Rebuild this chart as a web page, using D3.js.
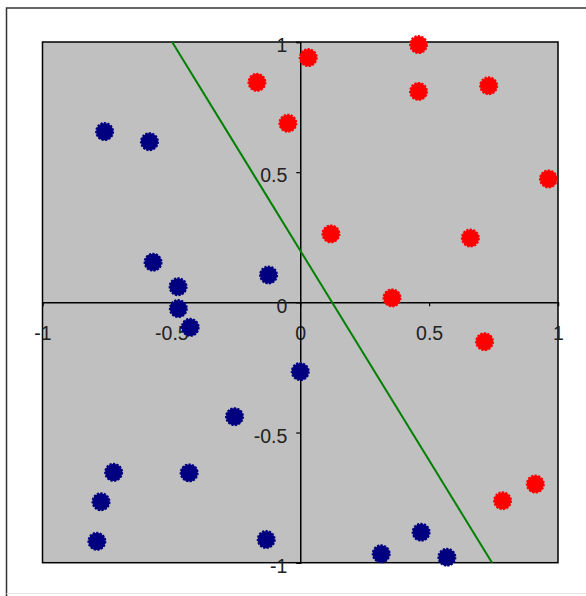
<!DOCTYPE html>
<html>
<head>
<meta charset="utf-8">
<script src="https://cdn.jsdelivr.net/npm/d3@7"></script>
<style>
  body { margin: 0; background: #fff; }
  svg { display: block; }
</style>
</head>
<body>
<div id="grafico"></div>
<script>
// class +1 (red) and class -1 (navy) points, with the separating line
const redX  = [-0.168, 0.031, -0.048, 0.459, 0.459, 0.731, 0.963, 0.119, 0.660, 0.356, 0.715, 0.912, 0.785];
const redY  = [ 0.845, 0.940,  0.688, 0.990, 0.810, 0.832, 0.474, 0.263, 0.247, 0.017, -0.151, -0.698, -0.762];
const blueX = [-0.759, -0.585, -0.571, -0.474, -0.123, -0.473, -0.427, 0.000, -0.255, -0.724, -0.431, -0.773, -0.789, -0.132, 0.314, 0.469, 0.569];
const blueY = [ 0.656,  0.617,  0.154,  0.060,  0.105, -0.024, -0.096, -0.266, -0.439, -0.653, -0.655, -0.766, -0.918, -0.911, -0.966, -0.883, -0.979];
const lineX = [-0.497, 0.744];
const lineY = [1, -1];
const ticks = [-1, -0.5, 0, 0.5, 1];
const tickLabels = ["-1", "-0.5", "0", "0.5", "1"];

const W = 586, H = 596;
const plot = { left: 42.5, right: 558, top: 42, bottom: 562.7 };

const svg = d3.select("#grafico")
              .append("svg")
              .attr("width", W)
              .attr("height", H);

// outer frame
svg.append("path")
   .attr("d", `M6.5,${H} L6.5,8 L${W},8`)
   .attr("fill", "none")
   .attr("stroke", "#333")
   .attr("stroke-width", 1.5);
svg.append("line")
   .attr("x1", 6.5).attr("x2", W)
   .attr("y1", 593.5).attr("y2", 593.5)
   .attr("stroke", "#e4e4e4");

const x = d3.scaleLinear().domain([-1, 1]).range([plot.left, plot.right]);
const y = d3.scaleLinear().domain([-1, 1]).range([plot.bottom, plot.top]);

// plot area
svg.append("rect")
   .attr("x", x(-1))
   .attr("y", y(1))
   .attr("width", x(1) - x(-1))
   .attr("height", y(-1) - y(1))
   .attr("fill", "#c0c0c0")
   .attr("stroke", "#000")
   .attr("stroke-width", 1.5);

const fmt = d => tickLabels[ticks.indexOf(d)];

// axes crossing at 0
const xAxis = svg.append("g")
   .attr("transform", `translate(0, ${y(0)})`)
   .call(d3.axisBottom(x).tickValues(ticks).tickFormat(fmt).tickSize(4).tickPadding(20));
const yAxis = svg.append("g")
   .attr("transform", `translate(${x(0)}, 0)`)
   .call(d3.axisLeft(y).tickValues(ticks).tickFormat(fmt).tickSize(4).tickPadding(9));

[xAxis, yAxis].forEach(g => {
  g.select(".domain").attr("stroke", "#000").attr("stroke-width", 1.5);
  g.selectAll(".tick line").attr("stroke", "#000").attr("stroke-width", 1.2);
  g.selectAll(".tick text")
   .attr("font-family", "Arial, 'Liberation Sans', sans-serif")
   .attr("font-size", "19.5px")
   .attr("fill", "#222");
});
xAxis.selectAll(".tick")
     .filter(d => Math.abs(d) === 1)
     .select("line").remove();
yAxis.selectAll(".tick text").attr("dy", "0.5em");

// separating line
svg.append("line")
   .attr("x1", x(lineX[0])).attr("y1", y(lineY[0]))
   .attr("x2", x(lineX[1])).attr("y2", y(lineY[1]))
   .attr("stroke", "#008000")
   .attr("stroke-width", 2);

function drawPoints(xs, ys, color) {
  svg.append("g")
     .selectAll("circle")
     .data(xs.map((v, i) => ({ x: v, y: ys[i] })))
     .enter()
     .append("circle")
     .attr("cx", d => x(d.x))
     .attr("cy", d => y(d.y))
     .attr("r", 8.6)
     .attr("fill", color)
     .attr("stroke", color)
     .attr("stroke-width", 1.8)
     .attr("stroke-dasharray", "2.2,1.4");
}

drawPoints(redX, redY, "#ff0000");
drawPoints(blueX, blueY, "#000080");
</script>
</body>
</html>
